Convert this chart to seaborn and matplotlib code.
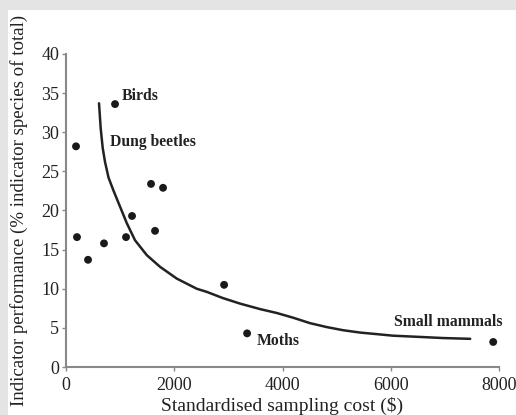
import matplotlib.pyplot as plt
from matplotlib.patches import Rectangle
import seaborn as sns
import pandas as pd

# data
cost = [185, 906, 203, 407, 702, 1109, 1220, 1645, 1571, 1793, 2921, 3346, 7893]
perf = [28.2, 33.6, 16.6, 13.7, 15.8, 16.6, 19.3, 17.4, 23.4, 22.9, 10.5, 4.3, 3.2]

# fitted curve
curve_x = [610, 641, 678, 721, 786, 874, 998, 1122, 1275, 1492, 1738, 2046, 2416, 2601,
           2902, 3216, 3586, 3895, 4196, 4510, 4819, 5120, 5434, 5743, 6044, 6359,
           6667, 6969, 7468]
curve_y = [33.7, 30.5, 28.0, 26.2, 24.2, 22.6, 20.5, 18.4, 16.2, 14.3, 12.8, 11.3, 10.0, 9.6,
           8.8, 8.1, 7.4, 6.9, 6.3, 5.6, 5.1, 4.7, 4.4, 4.2, 4.0, 3.9,
           3.8, 3.7, 3.6]

labels = ["Birds", "Dung beetles", "Moths", "Small mammals"]
label_x = [1020, 815, 3520, 8060]
label_y = [34.6, 28.8, 3.3, 5.7]
label_ha = ["left", "left", "left", "right"]

df = pd.DataFrame({"cost": cost, "perf": perf})
curve = pd.DataFrame({"x": curve_x, "y": curve_y})

sns.set_style("ticks")
plt.rcParams["font.family"] = ["Liberation Serif", "DejaVu Serif"]

fig = plt.figure(figsize=(5.16, 4.15), dpi=100)
fig.patch.set_facecolor("#e4e4e4")
fig.add_artist(Rectangle((8 / 516, 0), 1, (415 - 10) / 415, transform=fig.transFigure,
                         facecolor="white", edgecolor="none", zorder=-10))
ax = fig.add_axes([66 / 516, 48 / 415, 433 / 516, 313 / 415])
ax.set_facecolor("none")

sns.lineplot(data=curve, x="x", y="y", ax=ax, color="#222222", lw=1.8, sort=False)
sns.scatterplot(data=df, x="cost", y="perf", ax=ax, color="#1a1a1a", s=32, edgecolor="none", zorder=3)

for t, x, y, ha in zip(labels, label_x, label_y, label_ha):
    ax.text(x, y, t, ha=ha, va="center", fontsize=11.3, fontweight="bold", color="#222222")

ax.set_xlim(0, 8000)
ax.set_ylim(0, 40)
ax.set_xticks([0, 2000, 4000, 6000, 8000])
ax.set_yticks(range(0, 41, 5))
ax.set_xlabel("Standardised sampling cost ($)", fontsize=14, color="#222222")
ax.set_ylabel("Indicator performance (% indicator species of total)", fontsize=13.6,
              color="#222222")
ax.xaxis.set_label_coords(0.5, -0.095)
ax.yaxis.set_label_coords(-0.088, 0.5)
ax.tick_params(labelsize=13, length=3, width=1, colors="#888888", labelcolor="#222222", pad=2)
ax.tick_params(axis="x", pad=4)
sns.despine(ax=ax)
for s in ["left", "bottom"]:
    ax.spines[s].set_color("#888888")
    ax.spines[s].set_linewidth(1.5)

fig.savefig("out.png", dpi=100, facecolor=fig.get_facecolor())
